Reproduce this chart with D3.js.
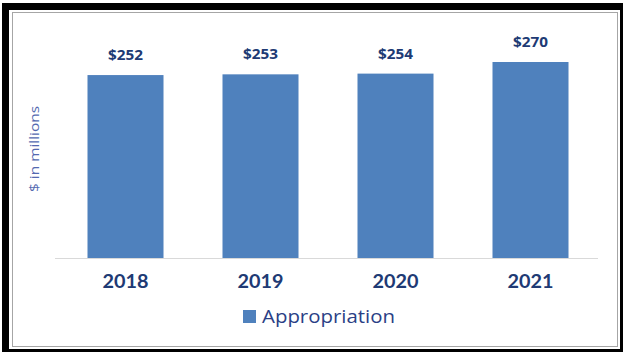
<!DOCTYPE html>
<html>
<head>
<meta charset="utf-8">
<script src="https://cdn.jsdelivr.net/npm/d3@7"></script>
<style>
  body { margin: 0; background: #fff; }
  svg { display: block; }
</style>
</head>
<body>
<div id="chart"></div>
<script>
const years = ["2018", "2019", "2020", "2021"];
const appropriation = [252, 253, 254, 270];
const seriesName = "Appropriation";
const axisTitle = "$ in millions";

const W = 624, H = 355;
const BAR = "#4f81bd";
const NAVY = "#203a74";

const svg = d3.select("#chart").append("svg")
  .attr("width", W)
  .attr("height", H);

// frame: heavy black border, white gap, thin grey inner line
svg.append("rect").attr("x", 2).attr("y", 3).attr("width", 621).attr("height", 349).attr("fill", "#000");
svg.append("rect").attr("x", 9).attr("y", 10).attr("width", 611).attr("height", 339).attr("fill", "#fff");
svg.append("rect").attr("x", 12.5).attr("y", 12.5).attr("width", 605).attr("height", 334)
  .attr("fill", "#fff").attr("stroke", "#a6a6a6").attr("stroke-width", 1);

const x = d3.scaleBand()
  .domain(years)
  .range([58, 598])
  .paddingInner(0.437)
  .paddingOuter(0.2185);

const y = d3.scaleLinear()
  .domain([0, 270])
  .range([258, 62]);

const data = years.map((yr, i) => ({ year: yr, value: appropriation[i] }));

svg.append("g").selectAll("rect")
  .data(data)
  .join("rect")
  .attr("x", d => x(d.year))
  .attr("y", d => y(d.value))
  .attr("width", x.bandwidth())
  .attr("height", d => y(0) - y(d.value))
  .attr("fill", BAR);

// baseline
svg.append("line")
  .attr("x1", 55).attr("x2", 598)
  .attr("y1", y(0) + 0.5).attr("y2", y(0) + 0.5)
  .attr("stroke", "#d9d9d9").attr("stroke-width", 1);

// value labels (the source is horizontally stretched, hence textLength)
svg.append("g").selectAll("text")
  .data(data)
  .join("text")
  .attr("x", d => x(d.year) + x.bandwidth() / 2)
  .attr("y", d => y(d.value) - 15)
  .attr("text-anchor", "middle")
  .attr("font-family", "'Open Sans', sans-serif")
  .attr("font-weight", "bold")
  .attr("font-size", 14)
  .attr("textLength", 35)
  .attr("lengthAdjust", "spacingAndGlyphs")
  .attr("fill", NAVY)
  .text(d => "$" + d.value);

// category axis
const xAxis = svg.append("g")
  .attr("transform", `translate(0,${y(0)})`)
  .call(d3.axisBottom(x).tickSize(0).tickPadding(17));
xAxis.select(".domain").remove();
xAxis.selectAll("text")
  .attr("font-family", "Lato, sans-serif")
  .attr("font-weight", "bold")
  .attr("font-size", 19)
  .attr("textLength", 46)
  .attr("lengthAdjust", "spacingAndGlyphs")
  .attr("fill", NAVY);

// y axis title
svg.append("text")
  .attr("transform", "translate(39,149) rotate(-90)")
  .attr("text-anchor", "middle")
  .attr("font-family", "'Open Sans', sans-serif")
  .attr("font-size", 13)
  .attr("textLength", 86)
  .attr("lengthAdjust", "spacingAndGlyphs")
  .attr("fill", "#5469b0")
  .text(axisTitle);

// legend
const legend = svg.append("g").attr("transform", "translate(243,310)");
legend.append("rect")
  .attr("width", 13).attr("height", 13)
  .attr("fill", BAR);
legend.append("text")
  .attr("x", 19).attr("y", 13)
  .attr("font-family", "'Open Sans', sans-serif")
  .attr("font-size", 18)
  .attr("textLength", 133)
  .attr("lengthAdjust", "spacingAndGlyphs")
  .attr("fill", "#2b3f86")
  .text(seriesName);
</script>
</body>
</html>
